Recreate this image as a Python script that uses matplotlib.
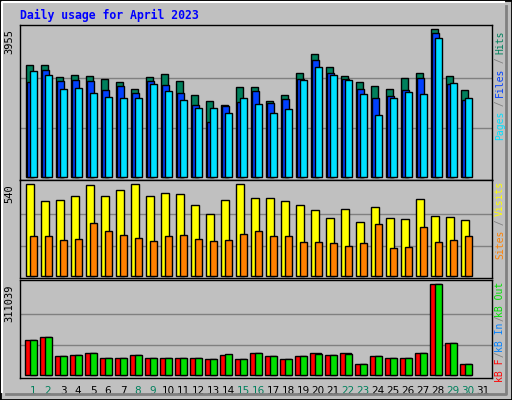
import numpy as np
import matplotlib.pyplot as plt
from matplotlib.patches import Rectangle

# Datos (abril 2023, dias 1..30)
dias = np.arange(1, 31)
hits = [2985, 2985, 2664, 2717, 2690, 2610, 2530, 2343, 2664, 2744, 2557, 2183, 2023, 1916, 2397, 2397,
        2023, 2183, 2771, 3279, 2931, 2690, 2530, 2423, 2343, 2637, 2771, 3947, 2690, 2316]
files = [2530, 2850, 2557, 2584, 2557, 2316, 2423, 2236, 2557, 2450, 2236, 1916, 1462, 1889, 1996, 2290,
         1969, 2076, 2610, 3118, 2771, 2610, 2343, 2103, 2156, 2316, 2637, 3840, 2477, 2049]
pages = [2824, 2717, 2343, 2370, 2236, 2129, 2103, 2103, 2477, 2290, 2049, 1836, 1836, 1702, 2103, 1943,
         1702, 1809, 2584, 2931, 2717, 2584, 2209, 1649, 2103, 2263, 2209, 3707, 2504, 2103]
visits = [540, 440, 446, 469, 534, 469, 505, 540, 469, 487, 481, 416, 363, 446, 540, 458,
          458, 440, 416, 387, 340, 393, 316, 405, 340, 334, 452, 352, 346, 328]
sites = [234, 234, 210, 216, 310, 263, 240, 222, 204, 234, 240, 216, 204, 210, 246, 263,
         234, 234, 198, 198, 193, 175, 193, 304, 163, 169, 287, 198, 210, 234]
kb_f = [119640, 131037, 65504, 68351, 76898, 59806, 56958, 68351, 59806, 59806, 56958, 59806, 54108,
        68351, 54108, 74051, 65504, 54108, 65504, 74051, 68351, 74051, 38441, 65504, 59806, 56958,
        76898, 311039, 108246, 38441]
kb_out = [119640, 131037, 65504, 68351, 74051, 59806, 56958, 68351, 56958, 59806, 59806, 59806, 54108,
          71204, 54108, 74051, 65504, 54108, 65504, 71204, 68351, 71204, 38441, 65504, 56958, 56958,
          76898, 311039, 108246, 38441]
etiquetas = [str(d) for d in range(1, 32)]
fines_semana = {1, 2, 8, 9, 15, 16, 22, 23, 29, 30}

GRIS = '#c0c0c0'
W, H = 512, 400
fig = plt.figure(figsize=(W / 100, H / 100), dpi=100, facecolor=GRIS)

# marco exterior
fig.patches.append(Rectangle((0, 0), 1, 1, transform=fig.transFigure, fill=False, ec='black', lw=2))
fig.add_artist(plt.Line2D([2 / W, 2 / W, 1 - 8 / W], [8 / H, 1 - 2 / H, 1 - 2 / H],
                          transform=fig.transFigure, color='white', lw=1.5))
fig.add_artist(plt.Line2D([6 / W, 1 - 6 / W, 1 - 6 / W], [6 / H, 6 / H, 1 - 6 / H],
                          transform=fig.transFigure, color='#808080', lw=2))

fig.text(20 / W, 1 - 15 / H, 'Daily usage for April 2023', color='#0000ff', fontsize=8.3,
         family='DejaVu Sans Mono', fontweight='bold', va='center')

X0, X1 = 20, 492
XLIM = (1 - 5.3 / 15, 1 + 466.7 / 15)


def panel(top, bottom, base, maxtop, vmax):
    ax = fig.add_axes([X0 / W, 1 - bottom / H, (X1 - X0) / W, (bottom - top) / H])
    ax.set_facecolor(GRIS)
    escala = vmax / (base - maxtop)
    ax.set_ylim(-(bottom - base) * escala, (base - top) * escala)
    ax.set_xlim(*XLIM)
    for f in (0.33, 0.67):
        ax.axhline(vmax * f, color='#808080', lw=1, zorder=0)
    ax.set_xticks([])
    ax.set_yticks([])
    for s in ax.spines.values():
        s.set_color('black')
        s.set_linewidth(1)
    ax.text(-0.012, 1 - (maxtop - top) / (bottom - top), str(vmax), transform=ax.transAxes,
            rotation=90, ha='right', va='top', family='DejaVu Sans Mono', fontsize=7.5)
    return ax


def barras(ax, vals, off, ancho, color):
    ax.bar(dias + off / 15, vals, width=ancho / 15, align='edge', color=color,
           edgecolor='black', linewidth=1, zorder=2)


def etiqueta_derecha(partes, ytop, cw):
    y = ytop
    for texto, color in reversed(partes):
        fig.text(500 / W, 1 - y / H, texto, color=color, rotation=90, rotation_mode='anchor',
                 ha='right', va='center', family='DejaVu Sans Mono', fontsize=7)
        y += len(texto) * cw


ax1 = panel(25, 180, 177, 29, 3955)
barras(ax1, hits, 0.3, 7.4, '#00805c')
barras(ax1, files, 2.0, 7.0, '#0040ff')
barras(ax1, pages, 4.3, 7.4, '#00e0ff')

ax2 = panel(180, 278, 276, 184, 540)
barras(ax2, visits, 0.3, 8.0, '#ffff00')
barras(ax2, sites, 4.3, 7.4, '#ff8000')

ax3 = panel(280, 378, 375, 284, 311039)
barras(ax3, kb_f, 0.0, 11.0, '#ff0000')
barras(ax3, kb_out, 4.3, 7.4, '#00e000')

for i, lab in enumerate(etiquetas):
    d = i + 1
    ax3.text(d + 7.7 / 15, -0.13, lab, transform=ax3.get_xaxis_transform(), ha='center', va='center',
             fontsize=7.5, color='#00805c' if d in fines_semana else 'black', clip_on=False)

etiqueta_derecha([('Pages', '#00e0ff'), (' / ', '#808080'), ('Files', '#0040ff'),
                  (' / ', '#808080'), ('Hits', '#00805c')], 30, 5.4)
etiqueta_derecha([('Sites', '#ff8000'), (' / ', '#808080'), ('Visits', '#ffff00')], 181, 5.4)
etiqueta_derecha([('kB F', '#ff0000'), (' / ', '#808080'), ('kB In', '#0080ff'),
                  (' / ', '#808080'), ('kB Out', '#00e000')], 282, 4.5)

fig.savefig('out.png', dpi=100, facecolor=GRIS)
